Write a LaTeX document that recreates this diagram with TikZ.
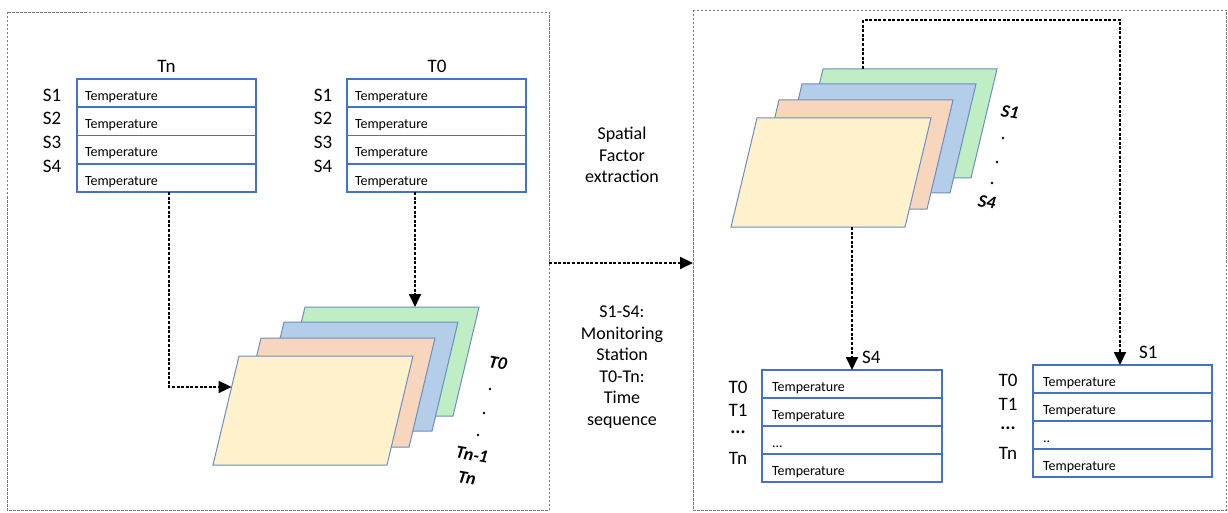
\documentclass[tikz,border=0pt]{standalone}
\usepackage{fontspec}
\setmainfont{Carlito}
\usetikzlibrary{arrows.meta,positioning,calc}

\definecolor{tblue}{HTML}{4472C4}
\definecolor{sheetline}{HTML}{6C8EBF}
\definecolor{sgreen}{HTML}{BFEEC5}
\definecolor{sblue}{HTML}{B4CDE8}
\definecolor{speach}{HTML}{F8D6BE}
\definecolor{syellow}{HTML}{FFF1CC}
\definecolor{panelgray}{HTML}{7A7A7A}

\begin{document}
\begin{tikzpicture}[x=1pt,y=-1pt,
  panel/.style={draw=panelgray, line width=0.8pt, dash pattern=on 2.5pt off 1.5pt},
  flow/.style={draw=black, line width=1.8pt, dash pattern=on 3pt off 1.6pt,
    -{Triangle[length=13pt,width=12pt]}},
  rowL/.style={draw=tblue, line width=1.8pt, minimum height=28.3pt, text width=163pt,
    inner xsep=8pt, inner ysep=0pt, outer sep=0pt, align=left, text height=16pt, text depth=2pt,
    font=\fontsize{14}{14}\selectfont},
  rowR/.style={rowL, minimum height=28pt, text width=160pt, inner xsep=10pt},
  lab/.style={font=\fontsize{19}{19}\selectfont, anchor=base, inner sep=0pt},
  midtxt/.style={font=\fontsize{18}{21.5}\selectfont, align=center, inner sep=0pt},
  slab/.style={font=\fontsize{18}{18}\selectfont\bfseries\itshape, rotate=-10, inner sep=0pt},
  sheet/.style={draw=sheetline, line width=1pt}
]
\useasboundingbox (0,0) rectangle (1228,513);
\fill[white] (0,0) rectangle (1228,513);

% two dashed panels
\draw[panel] (7,12) rectangle (549,510);
\draw[panel] (693,10) rectangle (1226,510);

% ---------------- left panel: station tables for Tn and T0
\node[lab] (tnTitle) at (166.5,73) {Tn};
\node[rowL, anchor=north west] (tn1) at (77,79) {Temperature};
\node[rowL, anchor=north] (tn2) at (tn1.south) {Temperature};
\node[rowL, anchor=north] (tn3) at (tn2.south) {Temperature};
\node[rowL, anchor=north] (tn4) at (tn3.south) {Temperature};
\node[lab] (tnS1) at (52,102) {S1};
\node[lab] (tnS2) at (52,125) {S2};
\node[lab] (tnS3) at (52,149) {S3};
\node[lab] (tnS4) at (52,173) {S4};

\node[lab] (t0Title) at (437,73) {T0};
\node[rowL, anchor=north west] (t01) at (347,79) {Temperature};
\node[rowL, anchor=north] (t02) at (t01.south) {Temperature};
\node[rowL, anchor=north] (t03) at (t02.south) {Temperature};
\node[rowL, anchor=north] (t04) at (t03.south) {Temperature};
\node[lab] (t0S1) at (323,102) {S1};
\node[lab] (t0S2) at (323,125) {S2};
\node[lab] (t0S3) at (323,149) {S3};
\node[lab] (t0S4) at (323,173) {S4};

% stack of time slices
\filldraw[sheet, fill=sgreen]  (305,307) -- ++(174,0) -- ++(-26,109) -- ++(-174,0) -- cycle;
\filldraw[sheet, fill=sblue]   (284,322) -- ++(174,0) -- ++(-26,109) -- ++(-174,0) -- cycle;
\filldraw[sheet, fill=speach]  (261,338) -- ++(174,0) -- ++(-26,109) -- ++(-174,0) -- cycle;
\filldraw[sheet, fill=syellow] (239,356) -- ++(174,0) -- ++(-26,109) -- ++(-174,0) -- cycle;
\coordinate (lgTop) at (415,307);
\coordinate (lyLeft) at (231.6,387);

\node[slab] (lT0) at (498,363) {T0};
\fill (490,389) circle (1.3pt);
\fill (484,413) circle (1.3pt);
\fill (478,435) circle (1.3pt);
\node[slab] (lTn1) at (472,455) {Tn-1};
\node[slab] (lTn) at (467,478) {Tn};

\draw[flow] ([xshift=2.5pt]tn4.south) |- (lyLeft);
\draw[flow] (lgTop |- t04.south) -- (lgTop);

% ---------------- middle: transition and legend
\coordinate (leftE) at (549,263);
\coordinate (rightW) at (693,263);
\draw[flow] (leftE) -- (rightW);
\node[midtxt] (sfe) at (622,155) {Spatial\\Factor\\extraction};
\node[midtxt] (legend) at (622,367) {S1-S4:\\Monitoring\\Station\\T0-Tn:\\Time\\sequence};

% ---------------- right panel: stack of station slices
\filldraw[sheet, fill=sgreen]  (823,69) -- ++(174,0) -- ++(-26,109) -- ++(-174,0) -- cycle;
\filldraw[sheet, fill=sblue]   (802,84) -- ++(174,0) -- ++(-26,109) -- ++(-174,0) -- cycle;
\filldraw[sheet, fill=speach]  (779,100) -- ++(174,0) -- ++(-26,109) -- ++(-174,0) -- cycle;
\filldraw[sheet, fill=syellow] (757,118) -- ++(174,0) -- ++(-26,109) -- ++(-174,0) -- cycle;
\coordinate (rgTop) at (863,69);
\coordinate (rTurn) at (863,20);
\coordinate (ryBot) at (852,227);

\node[slab] (rS1) at (1010,112) {S1};
\fill (1003,138) circle (1.3pt);
\fill (997,162) circle (1.3pt);
\fill (992,183) circle (1.3pt);
\node[slab] (rS4) at (987,202) {S4};

% time-series tables for S4 and S1
\node[rowR, anchor=north west] (s4a) at (762,370) {Temperature};
\node[rowR, anchor=north] (s4b) at (s4a.south) {Temperature};
\node[rowR, anchor=north] (s4c) at (s4b.south) {...};
\node[rowR, anchor=north] (s4d) at (s4c.south) {Temperature};
\node[lab] (s4T0) at (738,393) {T0};
\node[lab] (s4T1) at (738,416) {T1};
\node[lab] (s4Td) at (738,433) {\bfseries ...};
\node[lab] (s4Tn) at (738,464) {Tn};
\node[lab, anchor=base west] (s4Title) at (862,363) {S4};

\node[rowR, text width=159pt, anchor=north west] (s1a) at (1033,365) {Temperature};
\node[rowR, text width=159pt, anchor=north] (s1b) at (s1a.south) {Temperature};
\node[rowR, text width=159pt, anchor=north] (s1c) at (s1b.south) {..};
\node[rowR, text width=159pt, anchor=north] (s1d) at (s1c.south) {Temperature};
\node[lab] (s1T0) at (1008,386) {T0};
\node[lab] (s1T1) at (1008,410) {T1};
\node[lab] (s1Td) at (1008,429) {\bfseries ...};
\node[lab] (s1Tn) at (1008,459) {Tn};
\node[lab, anchor=base west] (s1Title) at (1139,358) {S1};

\draw[flow] (ryBot) -- (ryBot |- s4a.north);
\draw[flow] (rgTop) -- (rTurn) -| ([xshift=-2.5pt]s1a.north);
\end{tikzpicture}
\end{document}
